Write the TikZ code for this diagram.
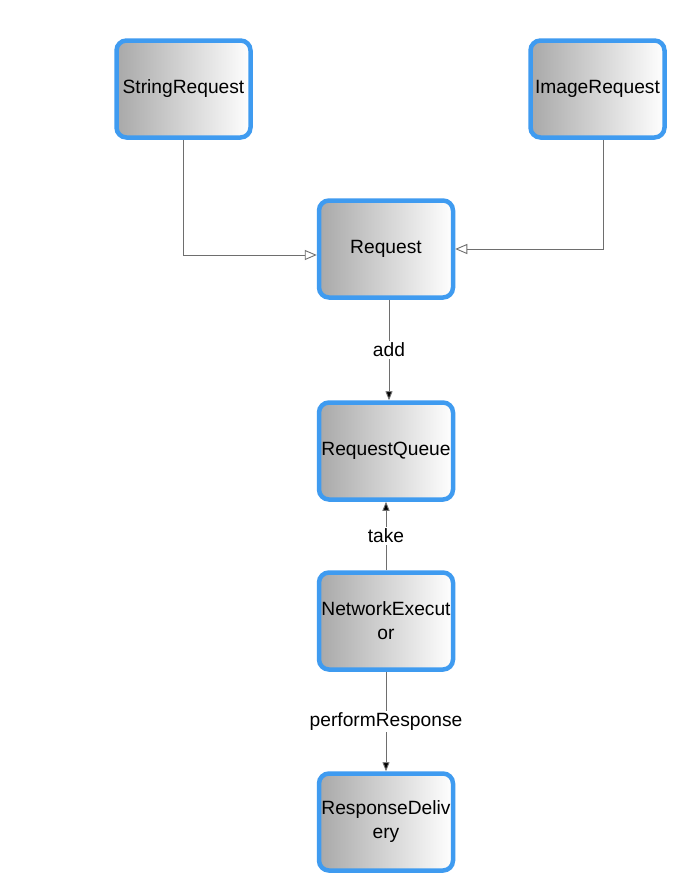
\documentclass[tikz,border=0pt]{standalone}
\usepackage{fontspec}
\setmainfont{Liberation Sans}
\usepackage{tikz}
\usetikzlibrary{arrows.meta}
\definecolor{boxblue}{HTML}{3F9BF0}
\definecolor{linegray}{HTML}{6E6E6E}

\begin{document}
\begin{tikzpicture}[
  x=1pt,y=-1pt,
  font=\fontsize{19.2}{24}\selectfont,
  classbox/.style={draw=boxblue, line width=4.5pt, rounded corners=10pt,
    left color=black!34, right color=white,
    minimum width=134pt, minimum height=97pt, align=center, inner sep=2pt},
  inherit/.style={draw=linegray, line width=0.9pt,
    -{Triangle[open, length=12pt, width=10pt]}},
  call/.style={draw=linegray, line width=0.9pt,
    -{Triangle[length=9pt, width=7pt, fill=black]}},
  calllabel/.style={fill=white, inner sep=2pt}
]
\path[use as bounding box, fill=white] (0,0) rectangle (678,889);

% Classes
\node[classbox] (sreq) at (183.5,89) {StringRequest};
\node[classbox] (ireq) at (597.5,89) {ImageRequest};
\node[classbox] (req) at (386,249) {Request};
\node[classbox] (queue) at (386,451) {RequestQueue};
\node[classbox] (exec) at (386,621) {NetworkExecut\\or};
\node[classbox] (deliv) at (386,822) {ResponseDeliv\\ery};

% Inheritance
\draw[inherit] (sreq.south) |- ([yshift=-6pt]req.west);
\draw[inherit] ([xshift=6pt]ireq.south) |- (req.east);

% Calls
\draw[call] ([xshift=3pt]req.south) -- ([xshift=3pt]queue.north)
  node[calllabel, midway] (addlab) {add};
\draw[call] (exec.north) -- (queue.south)
  node[calllabel, midway] (takelab) {take};
\draw[call] (exec.south) -- (deliv.north)
  node[calllabel, midway] (perflab) {performResponse};

\end{tikzpicture}
\end{document}
